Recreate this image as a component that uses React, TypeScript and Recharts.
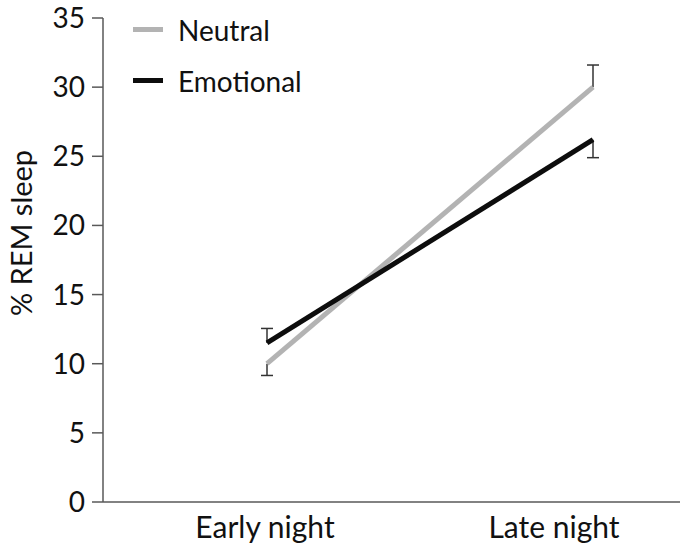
import React from 'react';
import {
  LineChart,
  Line,
  XAxis,
  YAxis,
  ErrorBar
} from 'recharts';

// ---- data ----
const categories = ['Early night', 'Late night'];
const neutralValues = [10, 30];
const emotionalValues = [11.5, 26.2];
// one-sided SEM: negative = bar drawn below the mean, positive = above
const neutralErrors = [-0.85, 1.6];
const emotionalErrors = [1.05, -1.3];
const yTicks = [0, 5, 10, 15, 20, 25, 30, 35];

const FONT = 'Lato, "DejaVu Sans", sans-serif';
const AXIS = '#595959';
const NEUTRAL = '#b3b3b3';
const EMOTIONAL = '#0d0d0d';

// stem runs from the cap back to the mean
const stem = (e: number): [number, number] => (e < 0 ? [0, -e] : [e, 0]);

const data = categories.map((label, i) => ({
  label,
  neutral: neutralValues[i],
  emotional: emotionalValues[i],
  neutralCap: neutralValues[i] + neutralErrors[i],
  emotionalCap: emotionalValues[i] + emotionalErrors[i],
  neutralStem: stem(neutralErrors[i]),
  emotionalStem: stem(emotionalErrors[i])
}));

// small horizontal cap drawn at each error end
const Cap = (props: any) => {
  const { cx, cy, index } = props;
  if (cx == null || cy == null) return <g key={index} />;
  return (
    <line
      key={index}
      x1={cx - 6}
      x2={cx + 6}
      y1={cy}
      y2={cy}
      stroke="#333"
      strokeWidth={1.5}
    />
  );
};

// labels sit a little off the points in the original
const labelShift = [-2, -39];

const XTick = (props: any) => {
  const { x, y, payload, index } = props;
  return (
    <text
      x={x + (labelShift[index] ?? 0)}
      y={y + 36}
      textAnchor="middle"
      fontFamily={FONT}
      fontSize={30}
      fill="#111"
    >
      {payload.value}
    </text>
  );
};

const YLabel = () => (
  <text
    x={20}
    y={233}
    transform="rotate(-90, 20, 233)"
    textAnchor="middle"
    dominantBaseline="central"
    fontFamily={FONT}
    fontSize={29}
    fill="#111"
  >
    % REM sleep
  </text>
);

const legendItems = [
  { name: 'Neutral', color: NEUTRAL },
  { name: 'Emotional', color: EMOTIONAL }
];

// drawn as an overlay so it does not eat into the plot area
const LegendBox = () => (
  <div
    style={{
      position: 'absolute',
      left: 133,
      top: 4,
      fontFamily: FONT,
      fontSize: 28,
      color: '#111'
    }}
  >
    {legendItems.map((item) => (
      <div
        key={item.name}
        style={{ display: 'flex', alignItems: 'center', height: 51 }}
      >
        <span
          style={{
            display: 'inline-block',
            width: 30,
            height: 5,
            background: item.color,
            marginRight: 15
          }}
        />
        <span>{item.name}</span>
      </div>
    ))}
  </div>
);

export default function App() {
  return (
    <div style={{ position: 'absolute', left: 0, top: 0, width: 686, height: 553, background: '#fff' }}>
      <LineChart
        width={686}
        height={553}
        data={data}
        margin={{ top: 18, right: 6, bottom: 0, left: 0 }}
      >
        <XAxis
          dataKey="label"
          scale="point"
          padding={{ left: 164, right: 87 }}
          axisLine={{ stroke: AXIS, strokeWidth: 1.5 }}
          tickLine={false}
          tickSize={0}
          tickMargin={0}
          height={51}
          tick={<XTick />}
          interval={0}
        />
        <YAxis
          domain={[0, 35]}
          ticks={yTicks}
          width={103}
          axisLine={{ stroke: AXIS, strokeWidth: 1.5 }}
          tickLine={{ stroke: AXIS, strokeWidth: 1.5 }}
          tickSize={11}
          tickMargin={7}
          tick={{ fontFamily: FONT, fontSize: 28, fill: '#111' }}
          label={<YLabel />}
        />

        {/* error bars first so the lines sit on top */}
        <Line
          dataKey="neutralCap"
          stroke="none"
          dot={<Cap />}
          activeDot={false}
          legendType="none"
          isAnimationActive={false}
        >
          <ErrorBar dataKey="neutralStem" width={0} stroke="#333" strokeWidth={1.5} />
        </Line>
        <Line
          dataKey="emotionalCap"
          stroke="none"
          dot={<Cap />}
          activeDot={false}
          legendType="none"
          isAnimationActive={false}
        >
          <ErrorBar dataKey="emotionalStem" width={0} stroke="#333" strokeWidth={1.5} />
        </Line>

        <Line
          type="linear"
          dataKey="neutral"
          name="Neutral"
          stroke={NEUTRAL}
          strokeWidth={5}
          dot={false}
          activeDot={false}
          isAnimationActive={false}
        />
        <Line
          type="linear"
          dataKey="emotional"
          name="Emotional"
          stroke={EMOTIONAL}
          strokeWidth={5}
          dot={false}
          activeDot={false}
          isAnimationActive={false}
        />
      </LineChart>
      <LegendBox />
    </div>
  );
}
